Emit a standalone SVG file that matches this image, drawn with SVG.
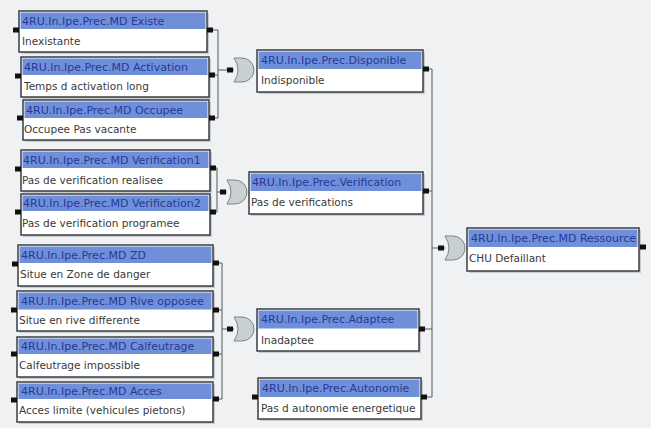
<svg xmlns="http://www.w3.org/2000/svg" xmlns:xlink="http://www.w3.org/1999/xlink" width="651" height="428" viewBox="0 0 651 428">
<style>
.bg{fill:#eff1f2}
.sh{fill:#c9cccf}
.box{fill:#ffffff;stroke:#3a3d42;stroke-width:1.5}
.hd{fill:#6f90d8}
.ht{font-family:"DejaVu Sans",sans-serif;font-size:11px;fill:#27379a}
.bt{font-family:"DejaVu Sans",sans-serif;font-size:10.5px;fill:#3a3a3a}
.port{fill:#111}
.ln{fill:none;stroke:#55595e;stroke-width:1}
.gate{fill:#c9d0d1;stroke:#7d8588;stroke-width:1}
</style>
<defs>
<path id="gate" class="gate" d="M0,-12 H8 A12,12 0 0 1 8,12 H0 Q8,0 0,-12 Z"/>
<rect id="p" class="port" x="-3" y="-2.5" width="6" height="5"/>
</defs>
<rect class="bg" x="0" y="0" width="651" height="428"/>

<g id="connectors">
<path class="ln" d="M213,30 H218 V118 H212 M215,75 H218 M218,70 H234"/>
<path class="ln" d="M213,168 H217 V212 H213 M217,192 H227"/>
<path class="ln" d="M216,263 H222 V399 H216 M216,310 H222 M216,354 H222 M222,329 H234"/>
<path class="ln" d="M426,69 H432 V397 H425 M426,191 H432 M422,329 H432 M432,248 H445"/>
<use xlink:href="#p" x="230" y="70"/>
<use xlink:href="#p" x="223" y="192"/>
<use xlink:href="#p" x="230" y="329"/>
<use xlink:href="#p" x="441" y="248"/>
<use xlink:href="#gate" x="234" y="70"/>
<use xlink:href="#gate" x="227" y="192"/>
<use xlink:href="#gate" x="234" y="329"/>
<use xlink:href="#gate" x="445" y="248"/>
</g>

<g id="n-existe">
<rect class="sh" x="21" y="13" width="188" height="41"/>
<rect class="box" x="19" y="11" width="188" height="41"/>
<rect class="hd" x="20.5" y="12.5" width="185" height="16.5"/>
<text class="ht" x="22" y="25">4RU.In.Ipe.Prec.MD Existe</text>
<text class="bt" x="22" y="45">Inexistante</text>
<use xlink:href="#p" x="16" y="30"/><use xlink:href="#p" x="210" y="30"/>
</g>
<g id="n-activation">
<rect class="sh" x="23" y="59" width="188" height="40"/>
<rect class="box" x="21" y="57" width="188" height="40"/>
<rect class="hd" x="22.5" y="58.5" width="185" height="16.5"/>
<text class="ht" x="24" y="71">4RU.In.Ipe.Prec.MD Activation</text>
<text class="bt" x="24" y="90">Temps d activation long</text>
<use xlink:href="#p" x="18" y="76"/><use xlink:href="#p" x="212" y="75"/>
</g>
<g id="n-occupee">
<rect class="sh" x="25" y="102" width="186" height="40"/>
<rect class="box" x="23" y="100" width="186" height="40"/>
<rect class="hd" x="24.5" y="101.5" width="183" height="16.5"/>
<text class="ht" x="26" y="114">4RU.In.Ipe.Prec.MD Occupee</text>
<text class="bt" x="24" y="133">Occupee Pas vacante</text>
<use xlink:href="#p" x="20" y="118"/><use xlink:href="#p" x="212" y="118"/>
</g>
<g id="n-verif1">
<rect class="sh" x="23" y="152" width="189" height="41"/>
<rect class="box" x="21" y="150" width="189" height="41"/>
<rect class="hd" x="22.5" y="151.5" width="186" height="16.5"/>
<text class="ht" x="23" y="164">4RU.In.Ipe.Prec.MD Verification1</text>
<text class="bt" x="22" y="184">Pas de verification realisee</text>
<use xlink:href="#p" x="18" y="169"/><use xlink:href="#p" x="213" y="168"/>
</g>
<g id="n-verif2">
<rect class="sh" x="23" y="196" width="189" height="41"/>
<rect class="box" x="21" y="194" width="189" height="41"/>
<rect class="hd" x="22.5" y="195.5" width="186" height="15.5"/>
<text class="ht" x="23" y="207">4RU.In.Ipe.Prec.MD Verification2</text>
<text class="bt" x="22" y="227">Pas de verification programee</text>
<use xlink:href="#p" x="18" y="212"/><use xlink:href="#p" x="213" y="212"/>
</g>
<g id="n-zd">
<rect class="sh" x="20" y="247" width="195" height="41"/>
<rect class="box" x="18" y="245" width="195" height="41"/>
<rect class="hd" x="19.5" y="246.5" width="192" height="16.5"/>
<text class="ht" x="21" y="259">4RU.In.Ipe.Prec.MD ZD</text>
<text class="bt" x="20" y="278">Situe en Zone de danger</text>
<use xlink:href="#p" x="15" y="264"/><use xlink:href="#p" x="216" y="263"/>
</g>
<g id="n-rive">
<rect class="sh" x="19" y="293" width="196" height="40"/>
<rect class="box" x="17" y="291" width="196" height="40"/>
<rect class="hd" x="18.5" y="292.5" width="193" height="17"/>
<text class="ht" x="21" y="305">4RU.In.Ipe.Prec.MD Rive opposee</text>
<text class="bt" x="19" y="324">Situe en rive differente</text>
<use xlink:href="#p" x="14" y="310"/><use xlink:href="#p" x="216" y="310"/>
</g>
<g id="n-calfeutrage">
<rect class="sh" x="19" y="339" width="196" height="40"/>
<rect class="box" x="17" y="337" width="196" height="40"/>
<rect class="hd" x="18.5" y="338.5" width="193" height="15.5"/>
<text class="ht" x="21" y="350">4RU.In.Ipe.Prec.MD Calfeutrage</text>
<text class="bt" x="19" y="369">Calfeutrage impossible</text>
<use xlink:href="#p" x="14" y="354"/><use xlink:href="#p" x="216" y="354"/>
</g>
<g id="n-acces">
<rect class="sh" x="19" y="384" width="196" height="40"/>
<rect class="box" x="17" y="382" width="196" height="40"/>
<rect class="hd" x="18.5" y="383.5" width="193" height="15.5"/>
<text class="ht" x="21" y="395">4RU.In.Ipe.Prec.MD Acces</text>
<text class="bt" x="19" y="414">Acces limite (vehicules pietons)</text>
<use xlink:href="#p" x="14" y="400"/><use xlink:href="#p" x="216" y="399"/>
</g>

<g id="n-disponible">
<rect class="sh" x="259" y="52" width="166" height="42"/>
<rect class="box" x="257" y="50" width="166" height="42"/>
<rect class="hd" x="258.5" y="51.5" width="163" height="17.5"/>
<text class="ht" x="261" y="64">4RU.In.Ipe.Prec.Disponible</text>
<text class="bt" x="261" y="84">Indisponible</text>
<use xlink:href="#p" x="426" y="69"/>
</g>
<g id="n-verification">
<rect class="sh" x="251" y="174" width="174" height="42"/>
<rect class="box" x="249" y="172" width="174" height="42"/>
<rect class="hd" x="250.5" y="173.5" width="171" height="17.5"/>
<text class="ht" x="252" y="186">4RU.In.Ipe.Prec.Verification</text>
<text class="bt" x="251" y="206">Pas de verifications</text>
<use xlink:href="#p" x="426" y="191"/>
</g>
<g id="n-adaptee">
<rect class="sh" x="259" y="311" width="162" height="42"/>
<rect class="box" x="257" y="309" width="162" height="42"/>
<rect class="hd" x="258.5" y="310.5" width="159" height="18"/>
<text class="ht" x="261" y="323">4RU.In.Ipe.Prec.Adaptee</text>
<text class="bt" x="261" y="344">Inadaptee</text>
<use xlink:href="#p" x="422" y="329"/>
</g>
<g id="n-autonomie">
<rect class="sh" x="260" y="380" width="163" height="41"/>
<rect class="box" x="258" y="378" width="163" height="41"/>
<rect class="hd" x="259.5" y="379.5" width="160" height="17.5"/>
<text class="ht" x="262" y="392">4RU.In.Ipe.Prec.Autonomie</text>
<text class="bt" x="261" y="412">Pas d autonomie energetique</text>
<use xlink:href="#p" x="255" y="397"/><use xlink:href="#p" x="424" y="397"/>
</g>
<g id="n-ressource">
<rect class="sh" x="469" y="230" width="172" height="43"/>
<rect class="box" x="467" y="228" width="172" height="43"/>
<rect class="hd" x="468.5" y="229.5" width="169" height="17.5"/>
<text class="ht" x="471" y="242">4RU.In.Ipe.Prec.MD Ressource</text>
<text class="bt" x="469" y="262">CHU Defaillant</text>
<use xlink:href="#p" x="643" y="247"/>
</g>
</svg>
